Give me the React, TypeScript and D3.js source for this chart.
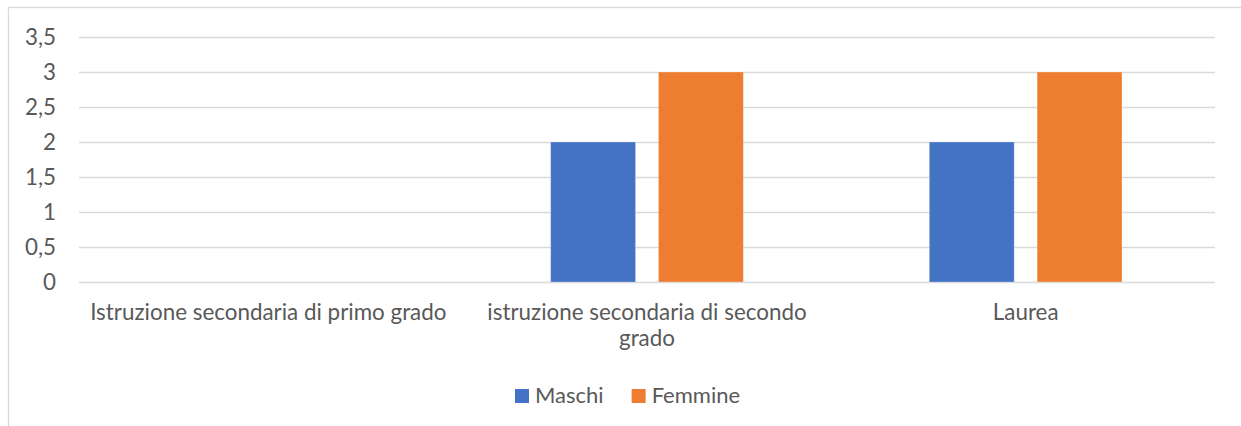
import React, { useEffect, useRef } from "react";
import * as d3 from "d3";

const categories = [
  "Istruzione secondaria di primo grado",
  "istruzione secondaria di secondo grado",
  "Laurea",
];
const seriesNames = ["Maschi", "Femmine"];
const maschi = [0, 2, 2];
const femmine = [0, 3, 3];
const yTicks = [0, 0.5, 1, 1.5, 2, 2.5, 3, 3.5];

const colors = ["#4472C4", "#ED7D31"];
const W = 1241;
const H = 426;
const FONT = "Lato, Carlito, Calibri, sans-serif";
const FS = 22.4;
const TXT = "#595959";

export default function App() {
  const ref = useRef<SVGSVGElement>(null);
  useEffect(() => {
    const svg = d3.select(ref.current);
    svg.selectAll("*").remove();

    const left = 79, right = 1215, top = 37, bottom = 282;

    // chart border
    svg.append("rect")
      .attr("x", 8.5).attr("y", 7.5)
      .attr("width", W + 10).attr("height", H + 10)
      .attr("fill", "#fff").attr("stroke", "#D9D9D9").attr("stroke-width", 1.3);

    const x0 = d3.scaleBand<string>().domain(categories).range([left, right]).padding(0);
    const bw = x0.bandwidth();
    const outer = bw * 0.2456;
    const x1 = d3.scaleBand<string>().domain(seriesNames).range([outer, bw - outer]).paddingInner(0.213).paddingOuter(0);
    const y = d3.scaleLinear().domain([0, 3.5]).range([bottom, top]);

    // gridlines
    svg.append("g").selectAll("line").data(yTicks).join("line")
      .attr("x1", left).attr("x2", right)
      .attr("y1", (d) => Math.round(y(d)) + 0.5).attr("y2", (d) => Math.round(y(d)) + 0.5)
      .attr("stroke", "#D9D9D9").attr("stroke-width", 1.3);

    // y tick labels
    svg.append("g").selectAll("text").data(yTicks).join("text")
      .attr("x", 56).attr("y", (d) => y(d))
      .attr("dy", "0.35em")
      .attr("text-anchor", "end")
      .attr("font-family", FONT).attr("font-size", FS).attr("fill", TXT)
      .text((d) => String(d).replace(".", ","));

    // bars
    const seriesData = [maschi, femmine];
    seriesData.forEach((vals, si) => {
      svg.append("g").selectAll("rect").data(vals.map((v, i) => ({ v, c: categories[i] })))
        .join("rect")
        .filter((d) => d.v > 0)
        .attr("x", (d) => (x0(d.c) as number) + (x1(seriesNames[si]) as number))
        .attr("y", (d) => y(d.v))
        .attr("width", x1.bandwidth())
        .attr("height", (d) => y(0) - y(d.v))
        .attr("fill", colors[si])
        .attr("stroke", "#ffffff").attr("stroke-opacity", 0.25).attr("stroke-width", 1);
    });

    // category labels with wrapping
    const cg = svg.append("g");
    categories.forEach((c) => {
      const cx = (x0(c) as number) + bw / 2;
      const t = cg.append("text")
        .attr("x", cx).attr("y", 320)
        .attr("text-anchor", "middle")
        .attr("font-family", FONT).attr("font-size", FS).attr("fill", TXT);
      const words = c.split(" ");
      let line: string[] = [];
      let lineNo = 0;
      let tspan = t.append("tspan").attr("x", cx).attr("y", 320);
      for (const w of words) {
        line.push(w);
        tspan.text(line.join(" "));
        const len = (tspan.node() as SVGTSpanElement).getComputedTextLength();
        if (len > bw - 8 && line.length > 1) {
          line.pop();
          tspan.text(line.join(" "));
          line = [w];
          lineNo++;
          tspan = t.append("tspan").attr("x", cx).attr("y", 320 + lineNo * 26).text(w);
        }
      }
    });

    // legend
    const lg = svg.append("g");
    let lx = 515;
    seriesNames.forEach((s, i) => {
      lg.append("rect").attr("x", lx).attr("y", 389).attr("width", 14).attr("height", 14).attr("fill", colors[i]);
      const t = lg.append("text").attr("x", lx + 20).attr("y", 403)
        .attr("font-family", FONT).attr("font-size", 22).attr("fill", TXT).text(s);
      const len = (t.node() as SVGTextElement).getComputedTextLength();
      lx += 20 + len + 28;
    });
  }, []);

  return (
    <svg ref={ref} width={W} height={H}
      style={{ position: "absolute", left: 0, top: 0, display: "block", background: "#fff" }} />
  );
}
